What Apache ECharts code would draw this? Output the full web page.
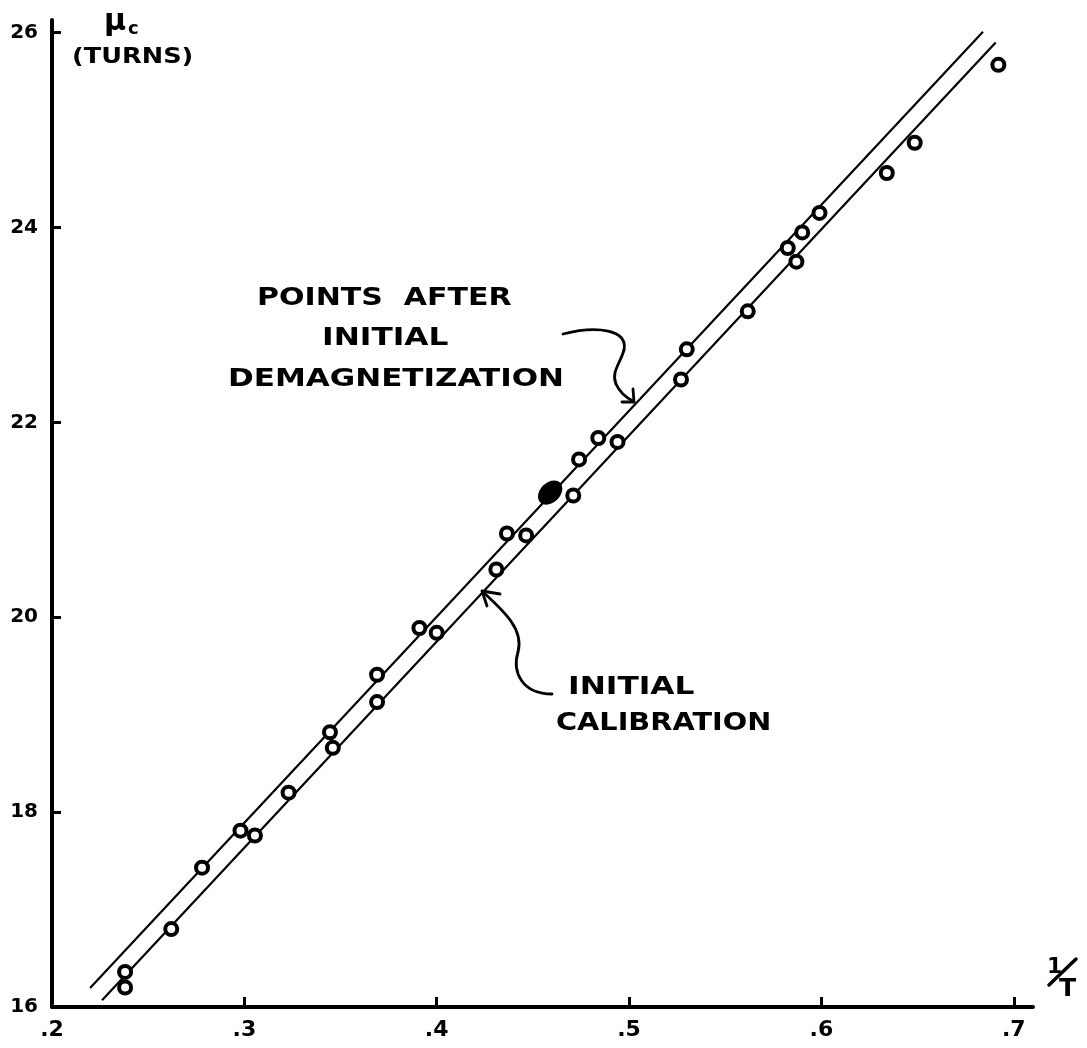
<!DOCTYPE html>
<html>
<head>
<meta charset="utf-8">
<script src="https://cdn.jsdelivr.net/npm/echarts@6/dist/echarts.min.js"></script>
<style>
html,body{margin:0;padding:0;background:#fff;}
#chart{width:1087px;height:1048px;}
</style>
</head>
<body>
<div id="chart"></div>
<script>
// ---- data ----
const xTickValues = [0.2, 0.3, 0.4, 0.5, 0.6, 0.7];
const yTickValues = [16, 18, 20, 22, 24, 26];
const afterDemagPoints = [[0.278,17.43],[0.298,17.81],[0.3445,18.82],[0.369,19.41],[0.391,19.89],[0.4365,20.86],[0.474,21.62],[0.484,21.84],[0.530,22.75],[0.5825,23.79],[0.590,23.95],[0.599,24.15]];
const filledPoints = [[0.459,21.28]];
const initialCalPoints = [[0.238,16.20],[0.238,16.36],[0.262,16.80],[0.3055,17.76],[0.323,18.20],[0.346,18.66],[0.369,19.13],[0.400,19.84],[0.431,20.49],[0.4465,20.84],[0.471,21.25],[0.494,21.80],[0.527,22.44],[0.5617,23.14],[0.587,23.65],[0.634,24.56],[0.6485,24.87],[0.692,25.67]];
const afterDemagLine = [[0.2198,16.195],[0.684,26.01]];
const initialCalLine = [[0.226,16.07],[0.6906,25.90]];

const FONT = 'DejaVu Sans';
const chart = echarts.init(document.getElementById('chart'), null, {renderer:'canvas'});

const openCircle = {symbol:'circle', symbolSize:12, itemStyle:{color:'#fff', borderColor:'#000', borderWidth:4, opacity:1}};
const ellipsePath = 'path://M0,10 C0,4.5 4.5,0 10,0 C15.5,0 20,4.5 20,10 C20,15.5 15.5,20 10,20 C4.5,20 0,15.5 0,10 Z';

function txt(text, x, y, size, sx){
  return {type:'text', x:x, y:y, scaleX: sx||1, z:10,
    style:{text:text, fill:'#000', font:'bold '+size+'px "'+FONT+'"', textAlign:'left', textVerticalAlign:'middle'}};
}
const stroke = {stroke:'#000', lineWidth:2.8, fill:null, lineCap:'round', lineJoin:'round'};

chart.setOption({
  animation:false,
  backgroundColor:'#fff',
  grid:{left:52, right:54, top:20, bottom:41, containLabel:false},
  xAxis:{
    type:'value', min:0.2, max:0.71,
    axisLine:{show:true, onZero:false, lineStyle:{color:'#000', width:4}},
    axisTick:{show:true, inside:true, length:10, lineStyle:{color:'#000', width:3}, customValues: xTickValues.slice(1)},
    axisLabel:{color:'#000', fontFamily:FONT, fontWeight:'bold', fontSize:22, margin:12,
      customValues: xTickValues, formatter: v => '.' + Math.round(v*10)},
    splitLine:{show:false}
  },
  yAxis:{
    type:'value', min:16, max:26.13,
    axisLine:{show:true, onZero:false, lineStyle:{color:'#000', width:4}},
    axisTick:{show:true, inside:true, length:9, lineStyle:{color:'#000', width:3}, customValues: yTickValues.slice(1)},
    axisLabel:{color:'#000', fontFamily:FONT, fontWeight:'bold', fontSize:20, margin:14,
      customValues: yTickValues, formatter: v => String(Math.round(v))},
    splitLine:{show:false}
  },
  series:[
    {type:'line', data:afterDemagLine, showSymbol:false, symbol:'none', lineStyle:{color:'#000', width:2.2}, z:1},
    {type:'line', data:initialCalLine, showSymbol:false, symbol:'none', lineStyle:{color:'#000', width:2.2}, z:1},
    Object.assign({type:'scatter', name:'Points after initial demagnetization', data:afterDemagPoints, z:3}, openCircle),
    Object.assign({type:'scatter', name:'Initial calibration', data:initialCalPoints, z:3}, openCircle),
    {type:'scatter', data:filledPoints, symbol:ellipsePath, symbolSize:[28,20], symbolRotate:45, itemStyle:{color:'#000', opacity:1}, z:4}
  ],
  graphic:[
    // y axis name
    txt('\u03bc', 104, 22, 30),
    txt('c', 128, 29, 18),
    txt('(TURNS)', 72, 58, 21, 1.22),
    // x axis name
    txt('1', 1047, 967, 22),
    txt('T', 1059, 990, 24, 1.05),
    {type:'line', shape:{x1:1049, y1:985, x2:1076, y2:959}, style:{stroke:'#000', lineWidth:3.5, lineCap:'round'}, z:10},
    // annotation 1
    txt('POINTS  AFTER', 257, 298, 25, 1.2),
    txt('INITIAL', 322, 338, 25, 1.25),
    txt('DEMAGNETIZATION', 228, 379, 25, 1.24),
    {type:'bezierCurve', shape:{x1:563, y1:334, cpx1:598, cpy1:325, cpx2:628, cpy2:330, x2:624, y2:350}, style:stroke, z:10},
    {type:'bezierCurve', shape:{x1:624, y1:350, cpx1:620, cpy1:364, cpx2:611, cpy2:372, x2:616, y2:384}, style:stroke, z:10},
    {type:'bezierCurve', shape:{x1:616, y1:384, cpx1:620, cpy1:393, cpx2:627, cpy2:398, x2:633, y2:401}, style:stroke, z:10},
    {type:'polyline', shape:{points:[[622,402],[634,402],[633,389]]}, style:stroke, z:10},
    // annotation 2
    txt('INITIAL', 568, 687, 25, 1.25),
    txt('CALIBRATION', 556, 723, 25, 1.15),
    {type:'bezierCurve', shape:{x1:552, y1:694, cpx1:522, cpy1:694, cpx2:512, cpy2:672, x2:518, y2:652}, style:stroke, z:10},
    {type:'bezierCurve', shape:{x1:518, y1:652, cpx1:524, cpy1:630, cpx2:505, cpy2:612, x2:483, y2:592}, style:stroke, z:10},
    {type:'polyline', shape:{points:[[500,594],[482,591],[487,606]]}, style:stroke, z:10}
  ]
});
</script>
</body>
</html>
